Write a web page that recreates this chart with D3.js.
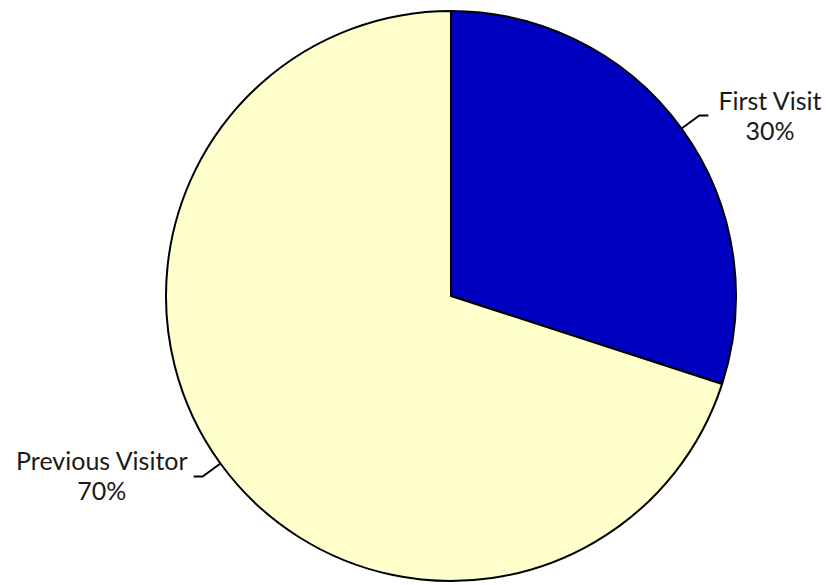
<!DOCTYPE html>
<html><head><meta charset="utf-8">
<script src="https://cdn.jsdelivr.net/npm/d3@7"></script>
<style>body{margin:0;background:#fff}svg{display:block}</style>
</head><body>
<script>
const categories = ["First Visit", "Previous Visitor"];
const values = [30, 70];
const colors = ["#0000C0", "#FFFFCC"];

const W = 827, H = 585, cx = 451, cy = 296, R = 285;
const svg = d3.select("body").append("svg").attr("width", W).attr("height", H);
const g = svg.append("g").attr("transform", `translate(${cx},${cy})`);
const pie = d3.pie().sort(null).value(d => d)(values);
const arc = d3.arc().innerRadius(0).outerRadius(R);
const total = d3.sum(values);

g.selectAll("path.slice").data(pie).join("path")
  .attr("d", arc).attr("fill", (d, i) => colors[i])
  .attr("stroke", "#000").attr("stroke-width", 2).attr("stroke-linejoin", "round");

const font = "Lato, 'Open Sans', sans-serif";
pie.forEach((d, i) => {
  const a = (d.startAngle + d.endAngle) / 2;
  const sx = Math.sin(a), sy = -Math.cos(a);
  const p0 = [R * sx, R * sy];
  const p1 = [(R + 22) * sx, (R + 22) * sy];
  const dir = sx >= 0 ? 1 : -1;
  const p2 = [p1[0] + dir * 9, p1[1]];
  g.append("polyline").attr("points", [p0, p1, p2].map(p => p.join(",")).join(" "))
    .attr("fill", "none").attr("stroke", "#000").attr("stroke-width", 2);
  const pct = Math.round(d.value / total * 100) + "%";
  const t = g.append("text").attr("font-family", font).attr("font-size", 25)
    .attr("fill", "#1a1a1a").attr("text-anchor", "middle");
  const tx0 = p2[0] + (dir > 0 ? 10 : -6);
  t.append("tspan").attr("x", 0).attr("y", p2[1] - 6).text(categories[i]);
  t.append("tspan").attr("x", 0).attr("y", p2[1] + 24).text(pct);
  const w = t.node().getBBox().width;
  t.attr("transform", `translate(${tx0 + dir * w / 2},0)`);
});
</script>
</body></html>
